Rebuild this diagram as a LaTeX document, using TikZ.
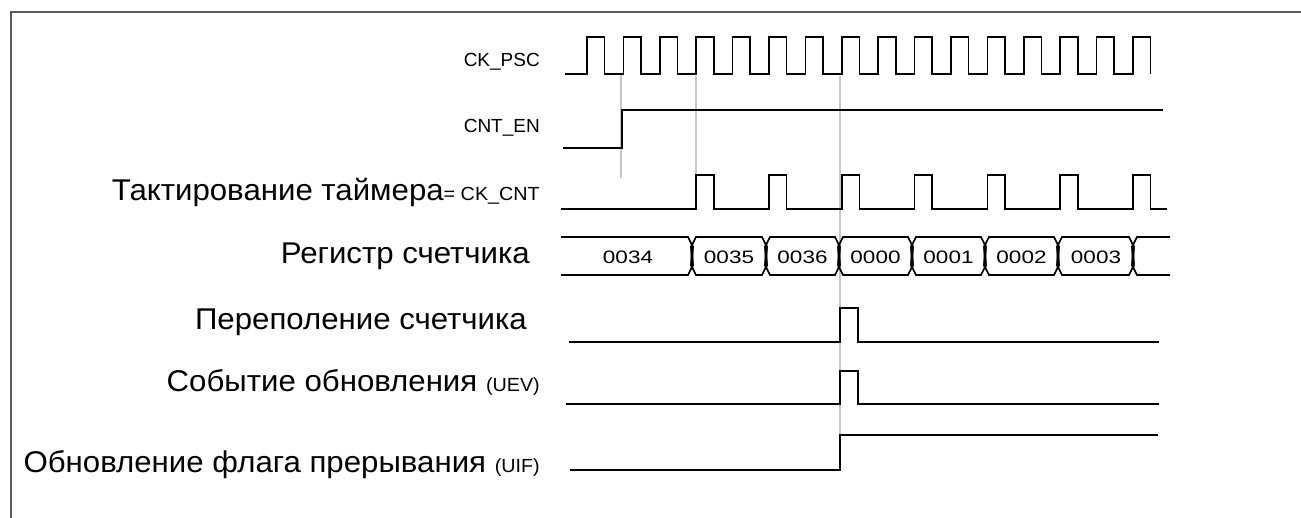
\documentclass[tikz,border=0pt]{standalone}
\usepackage{fontspec}
\setmainfont{Liberation Sans}
\newfontfamily\bigf[FakeStretch=1.04]{Liberation Sans}
\newfontfamily\valf[FakeStretch=1.25]{Liberation Sans}
\newcommand{\smf}{\fontsize{19}{22}\selectfont}
\begin{document}
\begin{tikzpicture}[x=1pt,y=-1pt,
  wave/.style={line width=1.6pt, black, line join=miter},
  guide/.style={line width=1.8pt, black!22},
  big/.style={font=\bigf\fontsize{30}{34}\selectfont, inner sep=0pt, anchor=east},
  small/.style={font=\smf, inner sep=0pt, anchor=east},
  val/.style={font=\valf\fontsize{18}{20}\selectfont, inner sep=0pt}]
\useasboundingbox (0,0) rectangle (1301,517);
\fill[white] (0,0) rectangle (1301,517);
% frame
\draw[line width=2pt, black!65] (11,520) -- (11,12) -- (1305,12);
% guide lines
\draw[guide] (621,74) -- (621,178);
\draw[guide] (696,76) -- (696,209);
\draw[guide] (840,76) -- (840,470);
% CK_PSC
\draw[wave] (565,74) foreach \k in {0,...,15} { -- ({587+36.4*\k},74) -- ({587+36.4*\k},37) -- ({604.5+36.4*\k},37) -- ({604.5+36.4*\k},74) };
% CNT_EN
\draw[wave] (563,148) -- (622,148) -- (622,110) -- (1163,110);
% CK_CNT
\draw[wave] (561,209) foreach \k in {3,5,...,15} { -- ({587+36.4*\k},209) -- ({587+36.4*\k},175) -- ({604.5+36.4*\k},175) -- ({604.5+36.4*\k},209) } -- (1167,209);
% register
\def\ta{692}\def\tb{766}\def\tc{839}\def\td{912}\def\te{985}\def\tf{1058}\def\tg{1133}
\draw[wave] (561,237) -- (\ta-4,237) -- (\ta-0.5,244) -- (\ta-0.5,268) -- (\ta-4,275) -- (561,275);
\foreach \l/\r in {\ta/\tb,\tb/\tc,\tc/\td,\td/\te,\te/\tf,\tf/\tg}{
  \draw[wave] (\l+4,237) -- (\r-4,237) -- (\r-0.5,244) -- (\r-0.5,268) -- (\r-4,275) -- (\l+4,275) -- (\l+0.5,268) -- (\l+0.5,244) -- cycle;
}
\draw[wave] (1170,237) -- (\tg+4,237) -- (\tg+0.5,244) -- (\tg+0.5,268) -- (\tg+4,275) -- (1170,275);
\foreach \t in {\ta,\tb,\tc,\td,\te,\tf,\tg}{
  \fill (\t-2,246) -- (\t+2,246) -- (\t+1,256) -- (\t+2,266) -- (\t-2,266) -- (\t-1,256) -- cycle;
}
\node[val] (v0) at (628,257) {0034};
\node[val] (v1) at (729,257) {0035};
\node[val] (v2) at (802.5,257) {0036};
\node[val] (v3) at (875.5,257) {0000};
\node[val] (v4) at (948.5,257) {0001};
\node[val] (v5) at (1021.5,257) {0002};
\node[val] (v6) at (1096,257) {0003};
% overflow, UEV, UIF
\draw[wave] (569,342) -- (840,342) -- (840,308) -- (858,308) -- (858,342) -- (1159,342);
\draw[wave] (566,404) -- (840,404) -- (840,371) -- (858,371) -- (858,404) -- (1159,404);
\draw[wave] (570,470) -- (840,470) -- (840,435) -- (1158,435);
% labels
\node[small] (lpsc) at (540,62) {CK\_PSC};
\node[small] (len) at (540,128) {CNT\_EN};
\node[big] (ltakt) at (540,192) {Тактирование таймера{\smf= CK\_CNT}};
\node[big] (lreg) at (530,256) {Регистр счетчика};
\node[big] (lovf) at (527,322) {Переполение счетчика};
\node[big] (luev) at (540,382) {Событие обновления {\smf(UEV)}};
\node[big] (luif) at (540,465) {Обновление флага прерывания {\smf(UIF)}};
\end{tikzpicture}
\end{document}
